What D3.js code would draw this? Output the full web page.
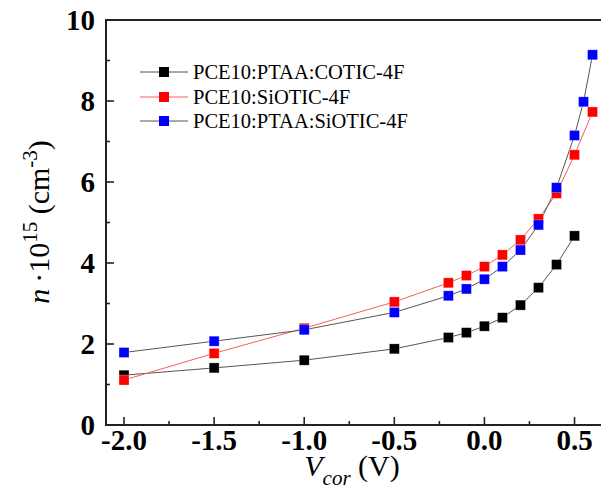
<!DOCTYPE html>
<html>
<head>
<meta charset="utf-8">
<script src="https://cdn.jsdelivr.net/npm/d3@7"></script>
<style>
  html, body { margin: 0; padding: 0; background: #fff; }
  svg text { font-family: "Liberation Serif", "Times New Roman", serif; }
</style>
</head>
<body>
<div id="chart"></div>
<script>
(function () {
  'use strict';

  // data
  var seriesNames = ['PCE10:PTAA:COTIC-4F', 'PCE10:SiOTIC-4F', 'PCE10:PTAA:SiOTIC-4F'];
  var seriesColors = ['#000000', '#ff0000', '#0000ff'];
  var lineColors = ['#555555', '#f06060', '#555555'];

  var vCotic = [-2.0, -1.5, -1.0, -0.5, -0.2, -0.1, 0.0, 0.1, 0.2, 0.3, 0.4, 0.5];
  var nCotic = [1.23, 1.41, 1.60, 1.88, 2.16, 2.28, 2.44, 2.65, 2.96, 3.39, 3.96, 4.67];

  var vSiotic = [-2.0, -1.5, -1.0, -0.5, -0.2, -0.1, 0.0, 0.1, 0.2, 0.3, 0.4, 0.5, 0.6];
  var nSiotic = [1.11, 1.77, 2.39, 3.04, 3.51, 3.69, 3.91, 4.20, 4.57, 5.09, 5.72, 6.67, 7.73];

  var vPtaaSiotic = [-2.0, -1.5, -1.0, -0.5, -0.2, -0.1, 0.0, 0.1, 0.2, 0.3, 0.4, 0.5, 0.55, 0.6];
  var nPtaaSiotic = [1.79, 2.07, 2.35, 2.78, 3.19, 3.36, 3.60, 3.91, 4.32, 4.94, 5.86, 7.15, 7.98, 9.14];

  var xTicks = [-2.0, -1.5, -1.0, -0.5, 0.0, 0.5];
  var xMinor = [-1.75, -1.25, -0.75, -0.25, 0.25];
  var yTicks = [0, 2, 4, 6, 8, 10];
  var yMinor = [1, 3, 5, 7, 9];

  var width = 601, height = 504;
  var margin = { left: 106, top: 20, bottom: 79 };

  var x = d3.scaleLinear().domain([-2.1, 0.7]).range([margin.left, margin.left + 2.8 * 180.2]);
  var y = d3.scaleLinear().domain([0, 10]).range([height - margin.bottom, margin.top]);

  var svg = d3.select('#chart').append('svg')
    .attr('width', width)
    .attr('height', height);

  var series = [
    { v: vCotic, n: nCotic },
    { v: vSiotic, n: nSiotic },
    { v: vPtaaSiotic, n: nPtaaSiotic }
  ];

  // frame (right side falls off the picture)
  svg.append('path')
    .attr('d', 'M' + x(0.7) + ',' + y(10) + 'H' + x(-2.1) + 'V' + y(0) + 'H' + x(0.7))
    .attr('fill', 'none')
    .attr('stroke', '#222')
    .attr('stroke-width', 2);

  // ticks, pointing inward
  var tickG = svg.append('g').attr('stroke', '#222').attr('stroke-width', 1.6);
  tickG.selectAll('line.xmaj').data(xTicks).enter().append('line')
    .attr('x1', function (d) { return x(d); }).attr('x2', function (d) { return x(d); })
    .attr('y1', y(0)).attr('y2', y(0) - 8);
  tickG.selectAll('line.xmin').data(xMinor).enter().append('line')
    .attr('x1', function (d) { return x(d); }).attr('x2', function (d) { return x(d); })
    .attr('y1', y(0)).attr('y2', y(0) - 4);
  tickG.selectAll('line.ymaj').data(yTicks).enter().append('line')
    .attr('x1', x(-2.1)).attr('x2', x(-2.1) + 8)
    .attr('y1', function (d) { return y(d); }).attr('y2', function (d) { return y(d); });
  tickG.selectAll('line.ymin').data(yMinor).enter().append('line')
    .attr('x1', x(-2.1)).attr('x2', x(-2.1) + 4)
    .attr('y1', function (d) { return y(d); }).attr('y2', function (d) { return y(d); });

  // tick labels
  svg.selectAll('text.xlab').data(xTicks).enter().append('text')
    .attr('x', function (d) { return x(d); })
    .attr('y', y(0) + 25)
    .attr('text-anchor', 'middle')
    .attr('font-size', 29)
    .attr('font-weight', 'bold')
    .text(function (d) { return d3.format('.1f')(d).replace('−', '-'); });

  svg.selectAll('text.ylab').data(yTicks).enter().append('text')
    .attr('x', x(-2.1) - 11)
    .attr('y', function (d) { return y(d) + 10; })
    .attr('text-anchor', 'end')
    .attr('font-size', 29)
    .attr('font-weight', 'bold')
    .text(function (d) { return d; });

  // axis titles
  var xt = svg.append('text')
    .attr('x', 352).attr('y', 476)
    .attr('text-anchor', 'middle')
    .attr('font-size', 30);
  xt.append('tspan').attr('font-style', 'italic').text('V');
  xt.append('tspan').attr('font-style', 'italic').attr('font-size', 21).attr('dy', 9).text('cor');
  xt.append('tspan').attr('dy', -9).text(' (V)');

  var yt = svg.append('text')
    .attr('transform', 'translate(49,222) rotate(-90)')
    .attr('text-anchor', 'middle')
    .attr('font-size', 30);
  yt.append('tspan').attr('font-style', 'italic').text('n');
  yt.append('tspan').text('\u2009\u00b710');
  yt.append('tspan').attr('font-size', 21).attr('dy', -12).text('15');
  yt.append('tspan').attr('dy', 12).text(' (cm');
  yt.append('tspan').attr('font-size', 21).attr('dy', -12).text('-3');
  yt.append('tspan').attr('dy', 12).text(')');

  // lines and markers
  var line = d3.line()
    .x(function (d) { return x(d[0]); })
    .y(function (d) { return y(d[1]); });

  var size = 10;
  series.forEach(function (s, i) {
    var pts = d3.zip(s.v, s.n);
    svg.append('path')
      .datum(pts)
      .attr('d', line)
      .attr('fill', 'none')
      .attr('stroke', lineColors[i])
      .attr('stroke-width', 1);
  });
  series.forEach(function (s, i) {
    var pts = d3.zip(s.v, s.n);
    svg.append('g').selectAll('rect').data(pts).enter().append('rect')
      .attr('x', function (d) { return x(d[0]) - size / 2; })
      .attr('y', function (d) { return y(d[1]) - size / 2; })
      .attr('width', size).attr('height', size)
      .attr('fill', seriesColors[i])
      .attr('stroke', '#ffffff')
      .attr('stroke-opacity', 0.5)
      .attr('stroke-width', 0.6);
  });

  // legend
  var legend = svg.append('g');
  var legY = [72, 97, 121];
  seriesNames.forEach(function (name, i) {
    legend.append('line')
      .attr('x1', 140).attr('x2', 188)
      .attr('y1', legY[i]).attr('y2', legY[i])
      .attr('stroke', lineColors[i]).attr('stroke-width', 1);
    legend.append('rect')
      .attr('x', 164 - size / 2).attr('y', legY[i] - size / 2)
      .attr('width', size).attr('height', size)
      .attr('fill', seriesColors[i]);
    legend.append('text')
      .attr('x', 193).attr('y', legY[i] + 7)
      .attr('font-size', 20.5)
      .text(name);
  });
})();
</script>
</body>
</html>
